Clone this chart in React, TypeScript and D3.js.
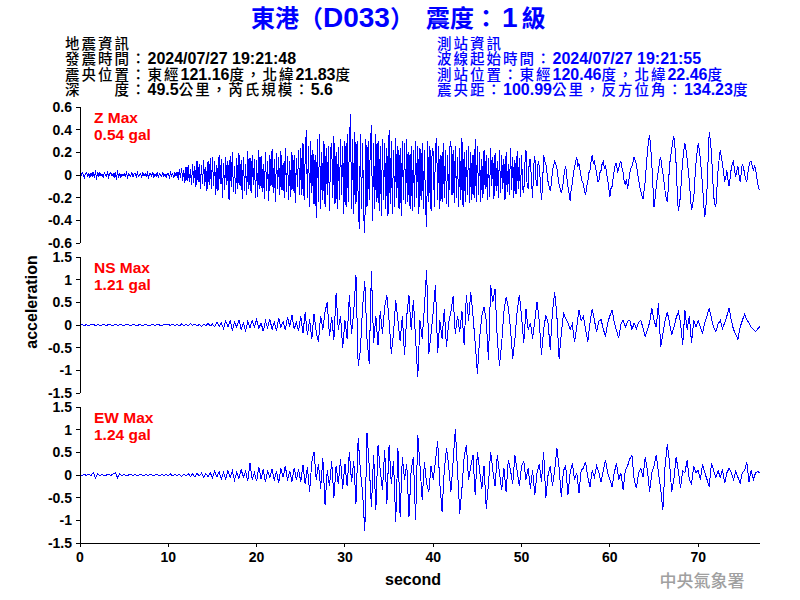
import React from "react";
import * as d3 from "d3";

const DT_Z = 0.125;
const DT_H = 0.25;
const T_MAX = 77;
const xTicks = [0, 10, 20, 30, 40, 50, 60, 70];
const zTicks = [-0.6, -0.4, -0.2, 0, 0.2, 0.4, 0.6];
const hTicks = [-1.5, -1, -0.5, 0, 0.5, 1, 1.5];

const zValues = [
  0.01,-0.01,0.02,0.00,-0.02,0.01,0.02,-0.01,0.01,-0.02,0.02,-0.01,0.03,-0.03,0.04,-0.04,0.03,-0.02,0.02,-0.01,
  0.01,-0.02,0.02,0.00,-0.01,0.02,-0.02,0.01,0.02,-0.01,0.01,-0.02,0.03,-0.04,0.04,-0.03,0.02,-0.02,0.01,-0.01,
  0.01,-0.01,0.02,-0.02,0.01,0.00,-0.01,0.02,-0.02,0.01,0.01,-0.02,0.02,-0.01,0.00,0.01,-0.02,0.02,-0.01,0.01,
  -0.01,0.02,-0.02,0.01,0.01,-0.01,0.02,-0.02,0.01,-0.01,0.02,-0.02,0.01,0.00,-0.01,0.02,-0.01,0.01,-0.02,0.01,
  0.01,-0.02,0.02,-0.01,0.01,-0.02,0.02,-0.01,0.03,-0.04,0.05,-0.03,0.06,-0.05,0.04,-0.07,0.07,-0.05,0.09,-0.06,
  0.05,-0.09,0.10,-0.07,0.08,-0.11,0.12,-0.06,0.10,-0.12,0.09,-0.08,0.13,-0.10,0.07,-0.14,0.12,-0.09,0.15,-0.12,
  0.16,-0.10,0.12,-0.18,0.09,-0.14,0.18,-0.08,0.14,-0.20,0.11,-0.13,0.16,-0.09,0.12,-0.22,0.17,-0.11,0.20,-0.15,
  0.08,-0.17,0.15,-0.12,0.19,-0.10,0.13,-0.21,0.16,-0.14,0.10,-0.18,0.21,-0.12,0.15,-0.16,0.18,-0.09,0.14,-0.20,
  0.13,-0.19,0.22,-0.12,0.17,-0.15,0.10,-0.21,0.20,-0.14,0.12,-0.23,0.18,-0.10,0.23,-0.16,0.14,-0.24,0.19,-0.12,
  0.16,-0.18,0.21,-0.13,0.11,-0.20,0.24,-0.15,0.17,-0.22,0.12,-0.19,0.20,-0.14,0.18,-0.25,0.15,-0.11,0.22,-0.18,
  0.24,-0.18,0.28,-0.22,0.16,0.40,-0.20,0.26,-0.28,0.30,-0.16,0.22,-0.26,0.18,-0.38,0.32,-0.24,0.36,-0.30,0.20,
  -0.22,0.30,-0.28,0.24,-0.18,0.26,-0.32,0.22,0.28,-0.20,0.34,-0.26,0.20,-0.30,0.25,-0.22,0.32,-0.18,0.26,-0.34,
  0.30,-0.28,0.36,-0.24,0.26,0.54,-0.30,0.32,-0.34,0.38,-0.26,0.30,-0.22,-0.48,0.36,-0.30,0.28,-0.36,-0.51,0.32,
  -0.28,0.30,-0.22,0.26,0.44,-0.41,0.28,-0.30,0.36,-0.24,0.30,-0.32,0.26,-0.36,0.32,-0.22,0.28,-0.30,0.24,-0.36,
  0.40,-0.26,0.30,-0.34,0.22,-0.28,0.33,-0.20,0.26,-0.30,0.24,-0.36,0.30,-0.22,0.28,-0.26,0.32,-0.24,0.20,-0.30,
  0.26,-0.32,0.22,-0.28,0.30,-0.20,0.26,-0.34,0.24,-0.22,0.28,-0.30,0.22,-0.26,-0.46,0.30,-0.24,0.26,-0.32,0.24,
  0.20,-0.28,0.24,0.33,-0.22,0.26,-0.30,0.18,-0.24,0.28,-0.20,0.22,-0.26,0.18,-0.28,0.24,0.30,-0.18,0.22,-0.25,
  0.26,-0.20,0.16,-0.28,0.24,-0.22,0.33,-0.28,0.20,-0.24,0.22,-0.18,0.26,-0.25,0.20,-0.22,0.18,-0.20,0.32,-0.24,
  0.26,-0.18,0.20,-0.24,0.14,-0.20,0.22,-0.12,0.18,-0.22,0.15,-0.19,0.24,-0.10,0.16,-0.21,0.19,-0.14,0.12,-0.20,
  0.22,-0.16,0.18,-0.12,0.14,-0.22,0.20,-0.15,0.10,-0.18,0.24,-0.13,0.16,-0.20,0.13,-0.17,0.21,-0.12,0.15,-0.19,
  0.18,-0.12,-0.16,0.10,0.22,-0.08,-0.12,0.14,0.14,-0.06,-0.20,0.08,0.17,-0.04,-0.10,0.12,0.08,-0.06,-0.22,-0.10,
  0.18,0.12,0.10,0.02,-0.06,-0.10,-0.14,-0.08,0.04,0.08,0.12,0.10,0.06,-0.02,-0.08,-0.12,-0.16,-0.12,-0.04,0.04,
  0.08,-0.02,-0.10,-0.16,-0.23,-0.12,-0.08,0.02,0.06,0.12,0.16,0.08,0.10,0.04,-0.02,-0.06,-0.08,-0.14,-0.18,-0.10,
  -0.06,0.02,0.04,0.12,0.18,0.10,0.12,0.06,0.02,-0.06,-0.06,0.02,0.04,0.10,0.12,0.06,0.08,0.02,-0.04,-0.12,
  -0.19,-0.12,-0.10,-0.02,0.04,0.10,0.10,0.02,0.06,0.10,0.12,0.06,0.02,-0.06,-0.08,-0.04,-0.12,-0.06,0.02,0.06,
  0.08,0.12,0.16,0.12,0.10,0.02,-0.04,-0.10,-0.14,-0.18,-0.21,-0.14,-0.06,0.08,0.20,0.30,0.35,0.24,0.10,-0.10,
  -0.28,-0.20,-0.10,-0.02,0.04,0.12,0.16,0.08,0.02,-0.06,-0.14,-0.20,-0.24,-0.10,0.08,0.16,0.22,0.30,0.34,0.24,
  0.10,-0.14,-0.32,-0.26,-0.18,0.00,0.12,0.22,0.28,0.22,0.14,0.04,-0.06,-0.20,-0.31,-0.26,-0.20,-0.04,0.10,0.20,
  0.28,0.22,0.14,0.02,-0.10,-0.26,-0.37,-0.28,-0.12,0.14,0.38,0.30,0.20,0.00,-0.18,-0.26,-0.28,-0.12,0.04,0.14,
  0.22,0.16,0.10,0.02,-0.06,-0.02,0.04,-0.04,-0.10,-0.02,0.06,0.10,0.12,0.04,-0.02,0.04,0.08,0.00,-0.06,0.02,
  0.10,0.06,0.02,-0.04,-0.06,0.02,0.08,0.12,0.12,0.08,0.04,0.08,0.06,-0.02,-0.08,-0.12,-0.13,
];

const nsValues = [
  0.00,0.01,-0.01,0.01,-0.02,0.01,0.02,-0.02,0.01,-0.01,0.00,0.01,-0.01,0.01,0.00,-0.01,0.02,-0.01,0.01,0.00,
  -0.01,0.01,0.00,-0.01,0.01,0.00,-0.01,0.01,-0.01,0.00,0.01,-0.01,0.00,0.01,-0.01,0.01,0.00,-0.01,0.01,0.00,
  0.01,-0.01,0.02,-0.01,0.01,-0.02,0.02,-0.01,0.01,-0.02,0.03,-0.01,0.02,-0.02,0.01,-0.03,0.02,-0.01,0.03,-0.02,
  0.02,-0.04,0.06,-0.03,0.05,-0.08,0.09,-0.04,0.10,-0.12,0.06,-0.05,0.11,-0.09,0.04,-0.13,0.08,-0.06,0.10,-0.04,
  0.12,-0.08,0.05,-0.14,0.09,-0.06,0.13,-0.10,0.07,-0.12,0.15,-0.05,0.08,-0.11,0.18,-0.04,0.22,-0.09,0.06,-0.14,
  0.20,-0.18,0.28,-0.22,0.12,-0.30,0.24,-0.16,-0.37,0.20,-0.10,0.30,0.50,-0.25,0.18,-0.32,0.70,-0.10,0.20,-0.51,
  0.10,-0.30,0.66,-0.20,0.30,1.10,-0.90,-0.55,0.40,0.96,-0.30,-0.85,1.18,-0.40,0.20,-0.45,0.30,-0.20,0.40,0.66,
  0.10,-0.63,-0.20,0.55,0.10,-0.35,0.20,-0.66,0.20,0.66,-0.10,0.55,-0.30,-1.15,0.10,-0.30,0.40,1.21,-0.63,-0.20,
  0.30,0.88,-0.62,0.10,-0.30,0.35,-0.48,0.05,0.30,0.63,-0.20,0.20,-0.15,0.30,-0.44,0.66,0.10,0.73,0.20,-0.40,
  -1.07,-0.30,0.20,0.40,0.10,-0.77,0.88,0.50,0.80,-0.30,-0.90,-0.40,0.30,0.61,0.40,-0.10,-0.74,-0.30,0.30,0.66,
  0.20,-0.40,0.35,-0.10,0.05,-0.30,0.10,0.51,0.10,-0.66,-0.10,0.22,0.05,-0.54,0.30,0.73,0.20,-0.74,-0.20,0.26,
  0.15,0.05,-0.10,0.02,-0.37,-0.05,0.33,0.10,0.20,-0.10,-0.37,0.05,0.35,0.10,-0.15,0.08,0.12,-0.08,-0.26,0.05,
  0.20,0.33,0.05,-0.12,-0.29,0.02,0.10,-0.05,0.08,0.11,-0.10,0.04,-0.08,0.06,0.10,-0.06,-0.26,-0.10,0.05,0.37,
  0.10,-0.05,0.48,-0.48,-0.20,0.10,0.29,0.05,-0.22,-0.05,0.15,0.29,0.05,-0.44,0.33,-0.10,0.20,-0.40,0.10,-0.05,
  0.10,-0.05,-0.18,0.05,0.20,0.37,0.15,-0.05,-0.15,0.02,0.10,-0.08,0.05,0.20,0.37,0.10,-0.10,-0.20,-0.32,-0.05,
  0.10,0.24,0.12,0.05,-0.05,-0.10,-0.15,-0.08,-0.03,
];

const ewValues = [
  0.00,-0.01,0.01,-0.01,0.02,-0.02,0.06,-0.07,0.03,-0.01,0.01,-0.01,0.00,0.01,-0.01,0.02,0.05,-0.06,0.02,-0.01,
  0.01,-0.01,0.00,0.01,-0.01,0.01,-0.02,0.01,0.00,-0.01,0.01,-0.01,0.02,-0.01,0.00,0.01,-0.02,0.01,-0.01,0.01,
  -0.01,0.02,-0.02,0.01,-0.01,0.02,-0.03,0.02,-0.02,0.03,-0.03,0.02,-0.04,0.03,-0.02,0.04,-0.05,0.03,-0.04,0.05,
  -0.06,0.08,-0.04,0.07,-0.09,0.05,-0.08,0.10,-0.06,0.09,-0.11,0.06,-0.08,0.12,-0.05,0.08,-0.13,0.26,-0.10,0.05,
  -0.14,0.18,-0.08,0.12,-0.16,0.10,-0.06,0.14,-0.12,0.08,-0.18,0.15,-0.05,0.20,-0.12,0.09,-0.15,0.16,-0.10,0.12,
  -0.15,0.22,-0.20,0.18,-0.37,0.30,0.51,-0.10,0.25,-0.30,0.37,-0.66,0.10,-0.25,0.30,-0.51,0.20,-0.20,0.35,-0.30,
  0.25,-0.25,0.51,-0.15,0.30,-0.63,0.81,0.10,-0.40,-1.23,0.92,0.20,-0.70,0.44,-0.77,0.66,0.10,-0.33,0.55,-0.63,
  0.66,-0.20,0.30,-1.03,0.59,-0.92,0.40,-0.10,0.25,-0.92,0.10,0.40,-1.00,0.88,0.20,-0.55,0.29,-0.20,-0.37,0.20,
  -0.10,0.30,0.74,-0.20,-0.81,0.10,0.59,0.20,-0.37,0.30,1.01,0.10,-0.85,-0.30,0.40,0.66,-0.10,0.20,0.44,-0.44,
  0.51,0.10,-0.30,0.20,-0.74,-0.20,0.51,0.10,-0.25,0.44,0.05,-0.33,0.15,-0.37,0.33,0.10,-0.20,0.44,0.10,-0.25,
  0.20,0.30,-0.10,0.15,-0.30,0.10,-0.44,0.05,0.25,-0.15,0.51,-0.51,0.00,0.20,-0.25,0.10,0.59,0.15,-0.48,0.10,
  0.20,-0.44,0.05,0.26,-0.10,0.05,-0.40,0.10,0.15,0.29,-0.05,-0.26,0.10,-0.05,0.20,0.05,-0.15,0.10,0.33,0.05,
  -0.10,-0.26,0.05,0.26,-0.10,0.05,-0.33,0.10,0.20,0.35,0.44,-0.10,-0.29,0.05,0.15,-0.05,0.39,0.10,-0.37,0.05,
  0.20,0.44,0.05,-0.30,-0.77,0.20,0.68,0.30,-0.37,-0.10,0.40,0.10,-0.29,0.10,0.05,0.33,-0.10,-0.20,0.20,0.05,
  0.10,-0.10,0.24,0.05,-0.10,-0.26,0.26,0.10,-0.05,0.10,-0.05,0.12,-0.18,0.05,0.15,0.05,-0.10,0.08,-0.05,-0.18,
  0.05,0.10,0.29,-0.15,0.10,-0.10,0.05,0.08,0.04,
];

const channelNames = ["Z Max", "NS Max", "EW Max"];
const channelPeaks = ["0.54 gal", "1.21 gal", "1.24 gal"];
const titleStation = "東港（";
const titleCode = "D033";
const titleClose = "）";
const titleIntensity = "震度：";
const titleLevel = "1";
const titleUnit = "級";
const headerLeft = [
  "地震資訊",
  "發震時間：2024/07/27 19:21:48",
  "震央位置：東經121.16度，北緯21.83度",
  "深　　度：49.5公里，芮氏規模：5.6",
];
const headerRight = [
  "測站資訊",
  "波線起始時間：2024/07/27 19:21:55",
  "測站位置：東經120.46度，北緯22.46度",
  "震央距：100.99公里，反方位角：134.23度",
];
const agencyText = "中央氣象署";

const BLUE = "#0000ff";
const LATIN = "'Liberation Sans', Arial, sans-serif";
const CJK = "'Noto Sans CJK TC', 'Noto Sans CJK SC', sans-serif";

function runs(s: string) {
  const out: { t: string; c: boolean }[] = [];
  for (const ch of s) {
    const c = /[\u2E80-\u9FFF\uFF00-\uFFEF\u3000-\u303F]/.test(ch);
    const last = out[out.length - 1];
    if (last && last.c === c) last.t += ch;
    else out.push({ t: ch, c });
  }
  return out;
}

function HeaderLine(props: { text: string; x: number; y: number; fill: string }) {
  const { text, x, y, fill } = props;
  return (
    <text x={x} y={y} fill={fill}>
      {runs(text).map((r, i) =>
        r.c ? (
          <tspan key={i} fontFamily={CJK} fontSize={14.5} fontWeight={500} letterSpacing={2}>
            {r.t}
          </tspan>
        ) : (
          <tspan key={i} fontFamily={LATIN} fontSize={16} fontWeight="bold">
            {r.t}
          </tspan>
        )
      )}
    </text>
  );
}

export default function App() {
  const W = 800, H = 600;
  const x0 = 80, x1 = 760;
  const x = d3.scaleLinear().domain([0, T_MAX]).range([x0, x1]);
  const panels = [
    { values: zValues, dt: DT_Z, ticks: zTicks, top: 107, bottom: 243, dom: 0.6 },
    { values: nsValues, dt: DT_H, ticks: hTicks, top: 257, bottom: 393, dom: 1.5 },
    { values: ewValues, dt: DT_H, ticks: hTicks, top: 407, bottom: 543, dom: 1.5 },
  ];

  return (
    <svg width={W} height={H} style={{ position: "absolute", left: 0, top: 0, background: "#fff" }}>
      <rect x={0} y={0} width={W} height={H} fill="#fff" />
      <text x={251} y={27} fill={BLUE}>
        <tspan fontFamily={CJK} fontSize={24} fontWeight="bold">{titleStation}</tspan>
        <tspan fontFamily={LATIN} fontSize={28} fontWeight="bold">{titleCode}</tspan>
        <tspan fontFamily={CJK} fontSize={24} fontWeight="bold">{titleClose}</tspan>
        <tspan dx={12} fontFamily={CJK} fontSize={24} fontWeight="bold">{titleIntensity}</tspan>
        <tspan dx={4} fontFamily={LATIN} fontSize={28} fontWeight="bold">{titleLevel}</tspan>
        <tspan dx={4} fontFamily={CJK} fontSize={24} fontWeight="bold">{titleUnit}</tspan>
      </text>
      {headerLeft.map((t, i) => (
        <HeaderLine key={"l" + i} text={t} x={65} y={48.5 + i * 15.6} fill="#000" />
      ))}
      {headerRight.map((t, i) => (
        <HeaderLine key={"r" + i} text={t} x={437} y={48.5 + i * 15.6} fill={BLUE} />
      ))}

      {panels.map((p, pi) => {
        const y = d3.scaleLinear().domain([-p.dom, p.dom]).range([p.bottom, p.top]);
        const line = d3.line<number>().x((_, i) => x(i * p.dt)).y((d) => y(d));
        return (
          <g key={pi}>
            <path d={line(p.values) || ""} fill="none" stroke={BLUE} strokeWidth={1} shapeRendering="crispEdges" />
            <line x1={x0} x2={x0} y1={p.top} y2={p.bottom} stroke="#000" strokeWidth={1} shapeRendering="crispEdges" />
            {p.ticks.map((t) => (
              <g key={t}>
                <line x1={x0 - 4} x2={x0} y1={y(t)} y2={y(t)} stroke="#000" strokeWidth={1} shapeRendering="crispEdges" />
                <text x={72} y={y(t)} dy="0.36em" textAnchor="end" fontFamily={LATIN} fontWeight="bold" fontSize={14} fill="#000">
                  {String(t)}
                </text>
              </g>
            ))}
            <text x={94} y={p.top + 16} fontFamily={LATIN} fontWeight="bold" fontSize={15.5} fill="#ff0000">{channelNames[pi]}</text>
            <text x={94} y={p.top + 33} fontFamily={LATIN} fontWeight="bold" fontSize={15.5} fill="#ff0000">{channelPeaks[pi]}</text>
          </g>
        );
      })}

      <line x1={x0} x2={x1} y1={543} y2={543} stroke="#000" strokeWidth={1} shapeRendering="crispEdges" />
      {xTicks.map((t) => (
        <g key={t}>
          <line x1={x(t)} x2={x(t)} y1={543} y2={547} stroke="#000" strokeWidth={1} shapeRendering="crispEdges" />
          <text x={x(t)} y={562} textAnchor="middle" fontFamily={LATIN} fontWeight="bold" fontSize={14} fill="#000">
            {String(t)}
          </text>
        </g>
      ))}
      <text x={413} y={585} textAnchor="middle" fontFamily={LATIN} fontWeight="bold" fontSize={16} fill="#000">second</text>
      <text transform="translate(37,302) rotate(-90)" textAnchor="middle" fontFamily={LATIN} fontWeight="bold" fontSize={16} fill="#000">
        acceleration
      </text>
      <text x={702} y={587} textAnchor="middle" fontFamily={CJK} fontWeight={500} fontSize={17} fill="#a0a0a0">{agencyText}</text>
    </svg>
  );
}
